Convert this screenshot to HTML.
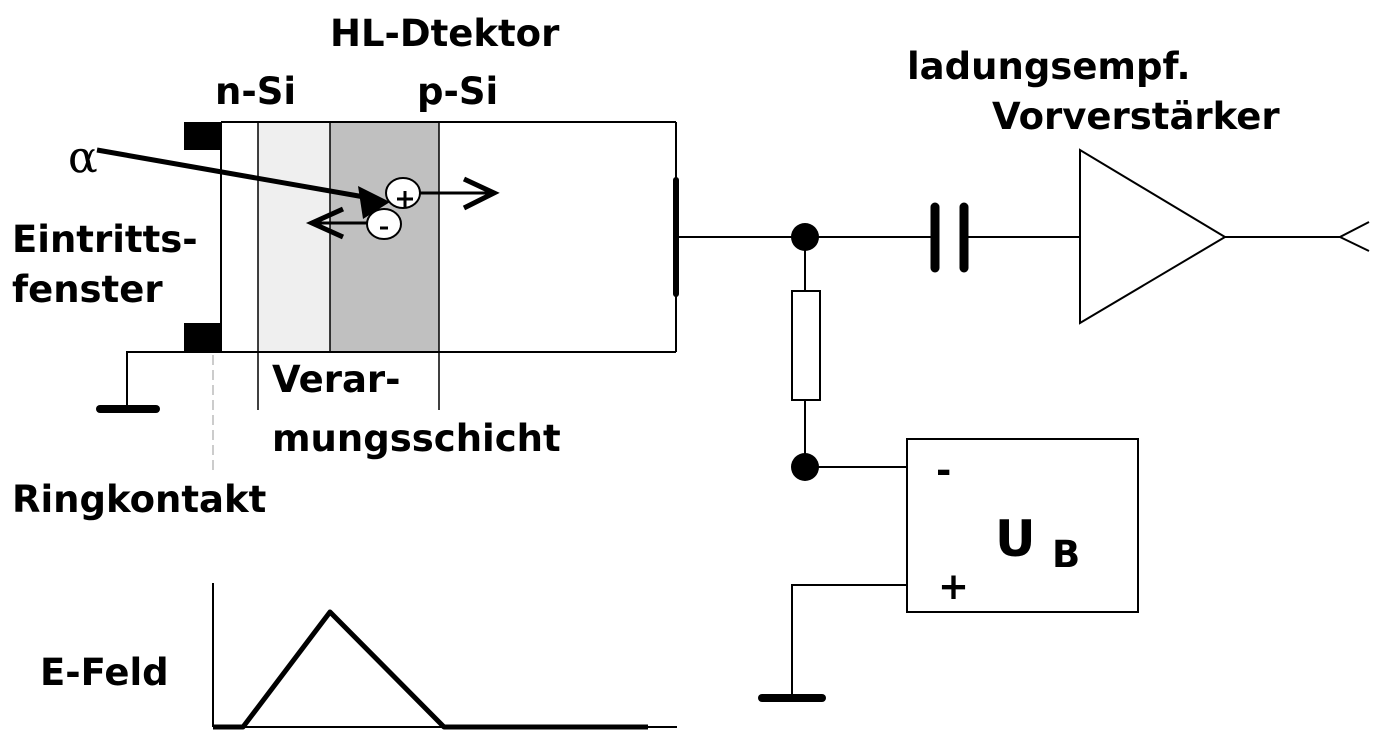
<!DOCTYPE html>
<html><head><meta charset="utf-8"><style>
html,body{margin:0;padding:0;background:#fff}
svg{display:block}
text{font-family:"DejaVu Sans","Liberation Sans",sans-serif;font-weight:bold;fill:#000}
</style></head><body>
<svg width="1378" height="740" viewBox="0 0 1378 740" xmlns="http://www.w3.org/2000/svg">
<rect x="258" y="122" width="72" height="230" fill="#efefef"/>
<rect x="330" y="122" width="109" height="230" fill="#c0c0c0"/>
<g stroke="#000" stroke-width="2" fill="none">
<line x1="221" y1="122" x2="676" y2="122"/>
<line x1="184" y1="352" x2="676" y2="352"/>
<line x1="221" y1="122" x2="221" y2="352"/>
<line x1="676" y1="122" x2="676" y2="352"/>
<line x1="258" y1="122" x2="258" y2="410" stroke-width="1.5"/>
<line x1="330" y1="122" x2="330" y2="352" stroke-width="1.5"/>
<line x1="439" y1="122" x2="439" y2="410" stroke-width="1.5"/>
<polyline points="184,352 127,352 127,407"/>
<line x1="213" y1="355" x2="213" y2="470" stroke="#999" stroke-width="1" stroke-dasharray="10,5"/>
</g>
<rect x="184" y="122" width="37" height="28" fill="#000"/>
<rect x="184" y="323" width="37" height="29" fill="#000"/>
<line x1="100" y1="409" x2="156" y2="409" stroke="#000" stroke-width="8" stroke-linecap="round"/>
<line x1="97" y1="150" x2="370" y2="198" stroke="#000" stroke-width="5"/>
<polygon points="390,202 363,219 358,186" fill="#000"/>
<text x="68" y="172" style="font-family:'DejaVu Serif','Liberation Serif',serif;font-weight:normal;font-size:44px">α</text>
<g stroke="#000" fill="none">
<line x1="420" y1="193" x2="492" y2="193" stroke-width="3"/>
<polyline points="464,179 494,193 464,208" stroke-width="5"/>
<line x1="368" y1="223" x2="313" y2="223" stroke-width="3"/>
<polyline points="343,209 312,223 343,237" stroke-width="5"/>
</g>
<ellipse cx="403" cy="193" rx="17" ry="15" fill="#fff" stroke="#000" stroke-width="2"/>
<line x1="397" y1="199" x2="413" y2="199" stroke="#000" stroke-width="3"/>
<line x1="405" y1="191" x2="405" y2="207" stroke="#000" stroke-width="3"/>
<ellipse cx="384" cy="224" rx="17" ry="15" fill="#fff" stroke="#000" stroke-width="2"/>
<line x1="380" y1="228" x2="388" y2="228" stroke="#000" stroke-width="3"/>
<line x1="676" y1="180" x2="676" y2="294" stroke="#000" stroke-width="6" stroke-linecap="round"/>
<g stroke="#000" stroke-width="2" fill="none">
<line x1="676" y1="237" x2="935" y2="237"/>
<line x1="964" y1="237" x2="1080" y2="237"/>
<polygon points="1080,150 1080,323 1225,237"/>
<line x1="1225" y1="237" x2="1340" y2="237"/>
<polyline points="1369,222 1340,237 1369,251"/>
<line x1="805" y1="237" x2="805" y2="467"/>
<rect x="792" y="291" width="28" height="109" fill="#fff"/>
<line x1="805" y1="467" x2="907" y2="467"/>
<rect x="907" y="439" width="231" height="173"/>
<polyline points="907,585 792,585 792,697"/>
<line x1="213" y1="583" x2="213" y2="727"/>
<line x1="213" y1="727" x2="677" y2="727"/>
</g>
<line x1="935" y1="207" x2="935" y2="268" stroke="#000" stroke-width="9" stroke-linecap="round"/>
<line x1="964" y1="207" x2="964" y2="268" stroke="#000" stroke-width="9" stroke-linecap="round"/>
<circle cx="805" cy="237" r="14" fill="#000"/>
<circle cx="805" cy="467" r="14" fill="#000"/>
<line x1="762" y1="698" x2="822" y2="698" stroke="#000" stroke-width="8" stroke-linecap="round"/>
<polyline points="213,727 243,727 330,612 444,727 648,727" stroke="#000" stroke-width="5" fill="none" stroke-linejoin="round"/>
<g font-size="37">
<text x="330" y="46">HL-Dtektor</text>
<text x="215" y="104">n-Si</text>
<text x="417" y="104">p-Si</text>
<text x="907" y="79">ladungsempf.</text>
<text x="992" y="129">Vorverstärker</text>
<text x="12" y="252">Eintritts-</text>
<text x="12" y="302">fenster</text>
<text x="272" y="392">Verar-</text>
<text x="272" y="451">mungsschicht</text>
<text x="12" y="512">Ringkontakt</text>
<text x="40" y="685">E-Feld</text>
<text x="936" y="483">-</text>
<text x="938" y="599">+</text>
<text x="1052" y="567">B</text>
</g>
<text x="995" y="556" font-size="50">U</text>
</svg>
</body></html>
